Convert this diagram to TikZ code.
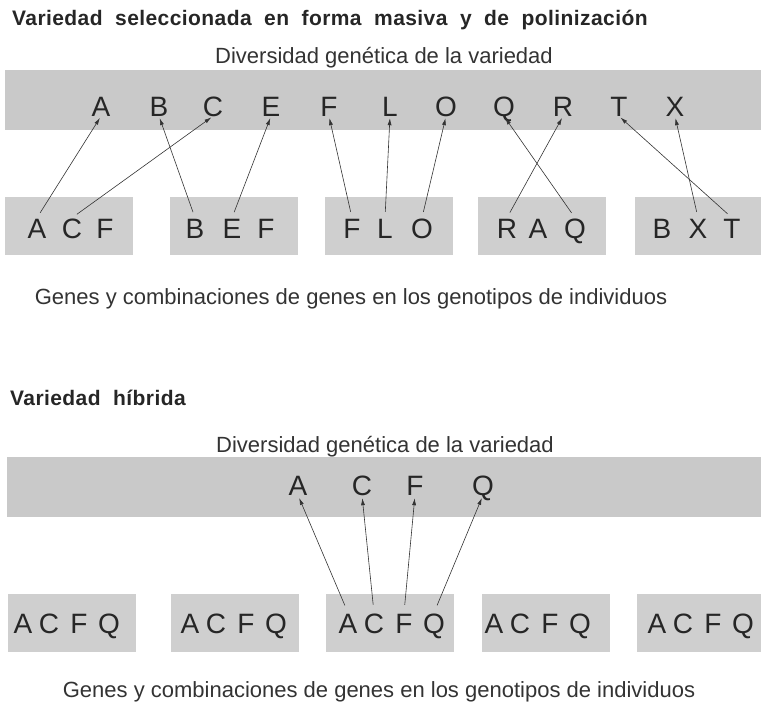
\documentclass[tikz,border=0pt]{standalone}
\usepackage{fontspec}
\setmainfont{Liberation Sans}
\newfontfamily\vartitlefont[LetterSpace=2,WordSpace=2]{Liberation Sans Bold}
\usetikzlibrary{arrows.meta}

\begin{document}
\begin{tikzpicture}[x=1pt,y=-1pt,
  varband/.style={fill=black!21,minimum width=756pt,minimum height=60pt,inner sep=0pt,anchor=north west},
  varbox/.style={fill=black!19,minimum width=128pt,minimum height=58pt,inner sep=0pt,anchor=north west},
  varletter/.style={font=\fontsize{28}{28}\selectfont,inner sep=0pt,text height=20pt,text depth=0pt,text=black!85},
  vartitle/.style={font=\vartitlefont\fontsize{21}{22}\selectfont,text=black!85,inner sep=0pt,anchor=base west},
  varcaption/.style={font=\fontsize{22}{24}\selectfont,text=black!80,inner sep=0pt,anchor=base},
  vararr/.style={-{Latex[length=7pt,width=4pt]},line width=0.6pt,black!80}
]
  \useasboundingbox (0,0) rectangle (761,705);
  % Variedad seleccionada en forma masiva
  \node[vartitle] (tit1) at (12,25.5) {Variedad seleccionada en forma masiva y de polinización};
  \node[varcaption] (div1) at (384,63) {Diversidad genética de la variedad};
  \node[varband] (band1) at (5,70) {};
  \foreach \l/\x in {A/101,B/159,C/213,E/271,F/329,L/390,O/446,Q/504,R/563,T/619,X/675}
    \node[varletter] (t\l) at (\x,106) {\l};
  % Genotipos de individuos
  \node[varbox] (box1) at (5,197) {};
  \node[varbox] (box2) at (170,197) {};
  \node[varbox] (box3) at (325,197) {};
  \node[varbox] (box4) at (478,197) {};
  \node[varbox] (box5) at (635,197) {};
  \foreach \n/\l/\x in {1/A/37,1/C/72,1/F/105,2/B/195,2/E/232,2/F/266,3/F/352,3/L/385,3/O/422,
    4/R/507,4/A/538,4/Q/575,5/B/662,5/X/698,5/T/732}
    \node[varletter] (g\n\l) at (\x,228) {\l};
  % Genes hacia la variedad
  \draw[vararr,shorten <=6pt,shorten >=2pt] (g1A.north) -- (tA.south);
  \draw[vararr,shorten <=6pt,shorten >=2pt] (g1C.north) -- (tC.south);
  \draw[vararr,shorten <=6pt,shorten >=2pt] (g2B.north) -- (tB.south);
  \draw[vararr,shorten <=6pt,shorten >=2pt] (g2E.north) -- (tE.south);
  \draw[vararr,shorten <=6pt,shorten >=2pt] (g3F.north) -- (tF.south);
  \draw[vararr,shorten <=6pt,shorten >=2pt] (g3L.north) -- (tL.south);
  \draw[vararr,shorten <=6pt,shorten >=2pt] (g3O.north) -- (tO.south);
  \draw[vararr,shorten <=6pt,shorten >=2pt] (g4R.north) -- (tR.south);
  \draw[vararr,shorten <=6pt,shorten >=2pt] (g4Q.north) -- (tQ.south);
  \draw[vararr,shorten <=6pt,shorten >=2pt] (g5X.north) -- (tX.south);
  \draw[vararr,shorten <=6pt,shorten >=2pt] (g5T.north) -- (tT.south);
  \node[varcaption] (gen1) at (351,304) {Genes y combinaciones de genes en los genotipos de individuos};
  % Variedad hibrida
  \node[vartitle] (tit2) at (10,405.5) {Variedad híbrida};
  \node[varcaption] (div2) at (385,452) {Diversidad genética de la variedad};
  \node[varband] (band2) at (7,457) {};
  \foreach \l/\x in {A/298,C/362,F/415,Q/483}
    \node[varletter] (h\l) at (\x,485) {\l};
  \node[varbox] (hbox1) at (8,594) {};
  \node[varbox] (hbox2) at (171,594) {};
  \node[varbox] (hbox3) at (326,594) {};
  \node[varbox] (hbox4) at (482,594) {};
  \node[varbox] (hbox5) at (637,594) {};
  \foreach \n/\x in {1/23,2/190,3/348,4/494,5/657}{
    \node[varletter] (k\n A) at (\x,623) {A};
    \node[varletter] (k\n C) at ({\x+26},623) {C};
    \node[varletter] (k\n F) at ({\x+56},623) {F};
    \node[varletter] (k\n Q) at ({\x+86},623) {Q};
  }
  \draw[vararr,shorten <=8pt,shorten >=3pt] (k3A.north) -- (hA.south);
  \draw[vararr,shorten <=8pt,shorten >=3pt] (k3C.north) -- (hC.south);
  \draw[vararr,shorten <=8pt,shorten >=3pt] (k3F.north) -- (hF.south);
  \draw[vararr,shorten <=8pt,shorten >=3pt] (k3Q.north) -- (hQ.south);
  \node[varcaption] (gen2) at (379,697) {Genes y combinaciones de genes en los genotipos de individuos};
\end{tikzpicture}
\end{document}
